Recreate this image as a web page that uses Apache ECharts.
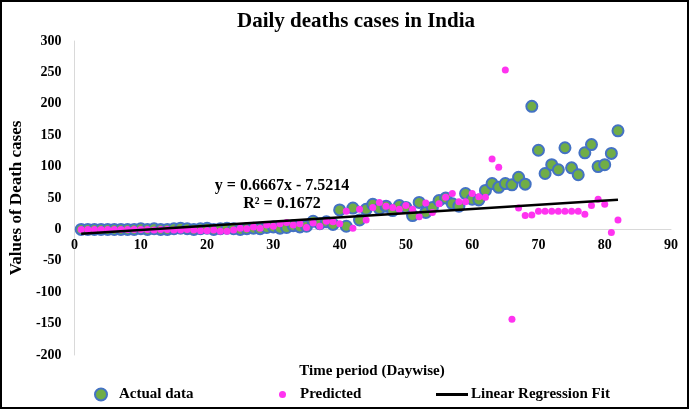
<!DOCTYPE html>
<html><head><meta charset="utf-8">
<script src="https://cdn.jsdelivr.net/npm/echarts@6/dist/echarts.min.js"></script>
<style>html,body{margin:0;padding:0;background:#fff}#c{width:689px;height:409px}</style>
</head><body><div id="c"></div>
<script>
const days = [1,2,3,4,5,6,7,8,9,10,11,12,13,14,15,16,17,18,19,20,21,22,23,24,25,26,27,28,29,30,31,32,33,34,35,36,37,38,39,40,41,42,43,44,45,46,47,48,49,50,51,52,53,54,55,56,57,58,59,60,61,62,63,64,65,66,67,68,69,70,71,72,73,74,75,76,77,78,79,80,81,82];
const actual = [0,0,0,0,0,0,0,0,0,1, 0,1,0,0,1,2,1,0,1,2, 0,1,2,1,0,1,2,1,3,4, 2,3,6,4,5,13,9,12,8,31, 5,34,15,32,40,33,37,30,38,35, 22,43,27,35,46,50,41,37,57,48, 47,62,73,67,73,71,83,72,196,126, 89,103,95,130,98,87,122,135,100,103,121,157];
const predicted = [0,0,0,0,0,0,0,0,0,0, 0,-1,0,0,-1,-1,0,-1,-2,-2, -1,-3,-3,-1,2,1,4,2,7,5, 9,11,7,9,3,10,5,13,12,9, 29,2,32,15,35,43,37,35,32,38, 32,20,42,27,41,51,57,44,44,57, 52,51,112,99,254,-143,34,22,23,29, 29,29,29,29,29,29,24,38,48,40,-5,15];
const fitX = [1, 82];
const fitY = [-6.85, 47.15];
const xTicks = {min: 0, max: 90, step: 10};
const yTicks = {min: -200, max: 300, step: 50};
const titleText = 'Daily deaths cases in India';
const xName = 'Time period (Daywise)';
const yName = 'Values of Death cases';
const eqLines = ['y = 0.6667x - 7.5214', 'R² = 0.1672'];
const seriesNames = ['Actual data', 'Predicted', 'Linear Regression Fit'];

const FONT = '"Liberation Serif", "Times New Roman", serif';
const chart = echarts.init(document.getElementById('c'));
const lbl = {fontFamily: FONT, fontWeight: 'bold', fontSize: 14, color: '#000'};
const legText = {fontFamily: FONT, fontWeight: 'bold', fontSize: 15, color: '#000'};

const gridTop = 41, gridBottom = 54, H = 409;
const plotH = H - gridTop - gridBottom;
const zeroOffset = -plotH * (0 - yTicks.min) / (yTicks.max - yTicks.min);

chart.setOption({
  animation: false,
  title: {text: titleText, left: 351, textAlign: 'center', top: 6,
    textStyle: {fontFamily: FONT, fontWeight: 'bold', fontSize: 21, color: '#000'}},
  grid: {left: 74, right: 18, top: gridTop, bottom: gridBottom},
  legend: [
    {data: [seriesNames[0]], left: 89, top: 382, icon: 'circle', itemWidth: 12, itemHeight: 12,
      textStyle: Object.assign({padding: [0,0,0,7]}, legText)},
    {data: [seriesNames[1]], left: 274, top: 382, icon: 'circle', itemWidth: 7, itemHeight: 7,
      textStyle: Object.assign({padding: [0,0,0,9]}, legText)},
    {data: [seriesNames[2]], left: 431, top: 382, icon: 'rect', itemWidth: 32, itemHeight: 3,
      textStyle: Object.assign({padding: [0,0,0,-2]}, legText)}
  ],
  xAxis: {type: 'value', min: xTicks.min, max: xTicks.max, interval: xTicks.step,
    offset: zeroOffset,
    axisLine: {show: true, onZero: false, lineStyle: {color: '#d9d9d9', width: 1}},
    axisTick: {show: false}, splitLine: {show: false},
    axisLabel: Object.assign({margin: 9}, lbl)},
  yAxis: {type: 'value', min: yTicks.min, max: yTicks.max, interval: yTicks.step,
    name: yName, nameLocation: 'middle', nameGap: 49, nameRotate: 90,
    nameTextStyle: {fontFamily: FONT, fontWeight: 'bold', fontSize: 17, color: '#000'},
    axisLine: {show: true, lineStyle: {color: '#d9d9d9', width: 1}},
    axisTick: {show: false}, splitLine: {show: false},
    axisLabel: Object.assign({margin: 13}, lbl)},
  series: [
    {name: seriesNames[0], type: 'scatter', symbol: 'circle', symbolSize: 11,
      itemStyle: {color: '#70AD47', borderColor: '#4472C4', borderWidth: 2, opacity: 1},
      data: days.map((d, i) => [d, actual[i]])},
    {name: seriesNames[1], type: 'scatter', symbol: 'circle', symbolSize: 7,
      itemStyle: {color: '#FF33F0', opacity: 1},
      data: days.map((d, i) => [d, predicted[i]])},
    {name: seriesNames[2], type: 'line', showSymbol: false, symbol: 'none',
      itemStyle: {color: '#000'}, lineStyle: {color: '#000', width: 2.5},
      data: fitX.map((x, i) => [x, fitY[i]])}
  ],
  graphic: [
    {type: 'rect', silent: true, z: 100, shape: {x: 1, y: 1, width: 687, height: 407},
      style: {fill: 'none', stroke: '#000', lineWidth: 2}},
    {type: 'text', style: {text: eqLines[0], x: 282, y: 186, align: 'center', verticalAlign: 'middle',
      font: 'bold 16px ' + FONT, fill: '#000'}},
    {type: 'text', style: {text: eqLines[1], x: 282, y: 204, align: 'center', verticalAlign: 'middle',
      font: 'bold 16px ' + FONT, fill: '#000'}},
    {type: 'text', style: {text: xName, x: 372, y: 371, align: 'center', verticalAlign: 'middle',
      font: 'bold 15px ' + FONT, fill: '#000'}}
  ]
});
</script>
</body></html>
